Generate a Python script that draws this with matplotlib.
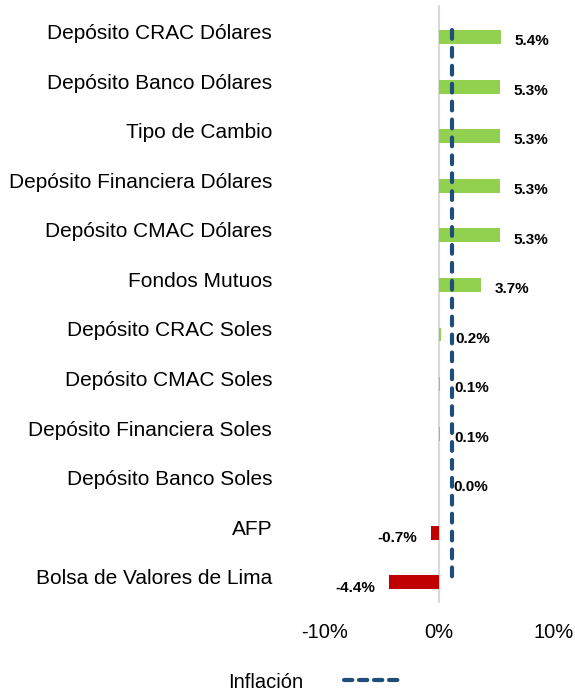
import matplotlib.pyplot as plt
import matplotlib.transforms as mtransforms
from matplotlib.lines import Line2D

plt.rcParams['font.family'] = ['Liberation Sans', 'DejaVu Sans']

categorias = ['Depósito CRAC Dólares', 'Depósito Banco Dólares', 'Tipo de Cambio',
              'Depósito Financiera Dólares', 'Depósito CMAC Dólares', 'Fondos Mutuos',
              'Depósito CRAC Soles', 'Depósito CMAC Soles', 'Depósito Financiera Soles',
              'Depósito Banco Soles', 'AFP', 'Bolsa de Valores de Lima']
rentabilidad = [5.4, 5.3, 5.3, 5.3, 5.3, 3.7, 0.2, 0.1, 0.1, 0.0, -0.7, -4.4]
etiquetas = ['5.4%', '5.3%', '5.3%', '5.3%', '5.3%', '3.7%', '0.2%', '0.1%', '0.1%',
             '0.0%', '-0.7%', '-4.4%']
inflacion = 1.1

verde = '#92D050'
rojo = '#C00000'
azul = '#1F4E79'

fig = plt.figure(figsize=(5.75, 6.91), dpi=100)
ax = fig.add_axes([0.565, 0.127, 0.397, 0.866])

y = list(range(len(categorias)))
colores = [verde if v >= 0 else rojo for v in rentabilidad]
ax.axvline(0, color='#D9D9D9', lw=1.5, zorder=1)
ax.barh(y, rentabilidad, height=0.28, color=colores, zorder=2)

for yi, v, t in zip(y, rentabilidad, etiquetas):
    if v >= 0:
        ax.annotate(t, (v, yi), xytext=(10, -3), textcoords='offset points',
                    ha='left', va='center', fontsize=11, fontweight='bold')
    else:
        ax.annotate(t, (v, yi), xytext=(-10, -4), textcoords='offset points',
                    ha='right', va='center', fontsize=11, fontweight='bold')

linea, = ax.plot([inflacion, inflacion], [-0.15, 10.95], color=azul, lw=3,
                 dash_capstyle='round', zorder=3)
linea.set_dashes((2.1, 2.2))

ax.set_xlim(-10, 10)
ax.set_ylim(11.42, -0.65)
ax.set_xticks([-10, 0, 10])
ax.set_xticklabels(['-10%', '0%', '10%'], fontsize=14.5)
ax.set_yticks(y)
ax.set_yticklabels(categorias, fontsize=15)
ax.tick_params(axis='both', length=0)
ax.tick_params(axis='y', pad=38)
ax.tick_params(axis='x', pad=14)

# category labels sit a little above the bars
subir = mtransforms.ScaledTranslation(0, 4 / 72, fig.dpi_scale_trans)
for lab in ax.get_yticklabels():
    lab.set_transform(lab.get_transform() + subir)

for s in ['top', 'right', 'bottom', 'left']:
    ax.spines[s].set_visible(False)

h = Line2D([0], [0], color=azul, lw=3, dash_capstyle='round')
h.set_dashes((2.0, 1.6))
fig.legend([h], ['Inflación'], loc='center', bbox_to_anchor=(314 / 575, 1 - 682 / 691),
           frameon=False, fontsize=14.5, markerfirst=False, handlelength=2.8,
           handletextpad=2.0, borderpad=0.1)

fig.savefig('out.png', dpi=100)
